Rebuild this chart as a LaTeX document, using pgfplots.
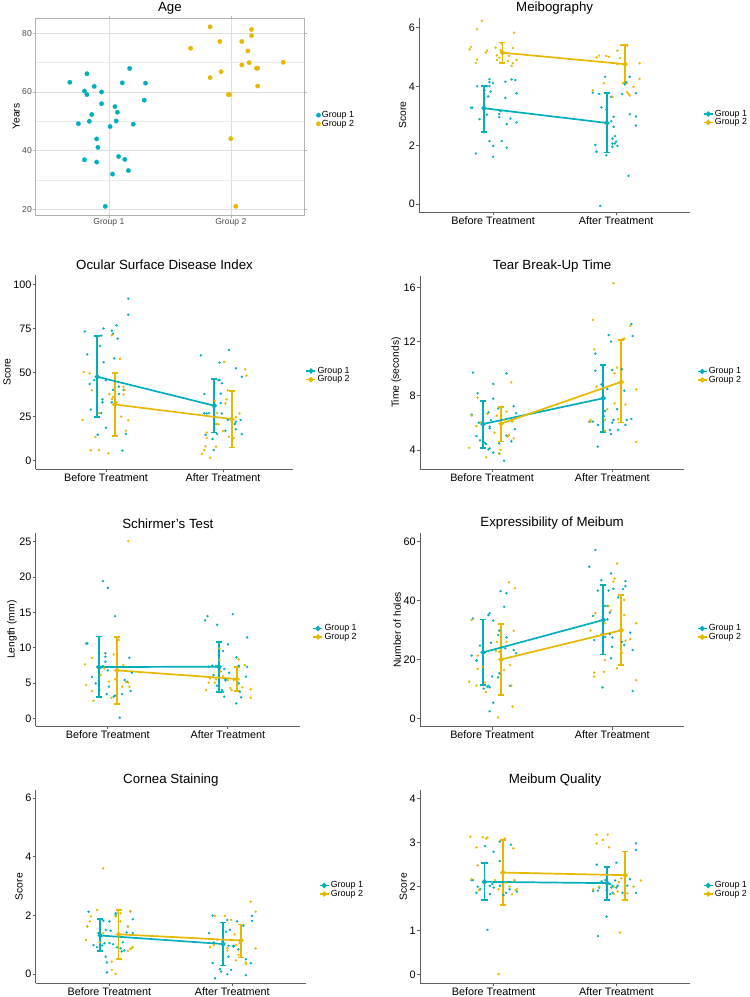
\documentclass[border=0pt]{standalone}
\usepackage{fontspec}
\setmainfont{Liberation Sans}
\usepackage{pgfplots}
\pgfplotsset{compat=1.18}
\definecolor{c1}{RGB}{0,175,187}
\definecolor{c2}{RGB}{231,184,0}
\definecolor{axg}{RGB}{95,95,95}
\newcommand\tickf{\fontsize{10.8}{12}\selectfont}
\newcommand\tickfa{\fontsize{8.6}{10}\selectfont}
\newcommand\labf{\fontsize{10.3}{12}\selectfont}
\newcommand\titf{\fontsize{13.3}{15}\selectfont}
\newcommand\legf{\fontsize{8.9}{10}\selectfont}
\pgfplotsset{
 pt1/.style={only marks, color=c1, mark=*, mark size=1.05pt, mark options={solid, draw=c1, fill=c1, line width=0.3pt}, forget plot},
 pt2/.style={only marks, color=c2, mark=*, mark size=1.05pt, mark options={solid, draw=c2, fill=c2, line width=0.3pt}, forget plot},
 ebar/.style={forget plot, color=#1, line width=1.7pt, mark=none, unbounded coords=jump},
 ln/.style={color=#1, line width=1.7pt, mark=*, mark size=1.7pt, mark options={solid, draw=#1, fill=#1}},
 common/.style={scale only axis, /pgf/number format/assume math mode=true,
   xmin=0.4, xmax=2.6,
   title style={font=\titf, at={(0.5,1)}, anchor=center, yshift=4pt},
   ylabel style={font=\labf, inner sep=1.2pt},
   ticklabel style={inner sep=1.2pt},
   legend cell align=left,
   legend style={at={(1.047,0.484)}, anchor=west, draw=none, fill=none, font=\legf, inner sep=0pt, row sep=-1.5pt, nodes={inner sep=1.2pt}}},
 panel/.style={common, axis x line*=bottom, axis y line*=left,
   axis line style={-, draw=axg, line width=0.9pt},
   tick align=outside, major tick length=3pt, every tick/.style={axg, line width=0.9pt},
   xtick={1,2}, xticklabels={Before Treatment, After Treatment},
   ticklabel style={font=\tickf, text=black},
   legend image code/.code={\draw[mark repeat=2,mark phase=2,#1] plot coordinates {(0pt,0pt) (4.5pt,0pt) (9pt,0pt)};}},
}
\begin{document}
\begin{tikzpicture}
\useasboundingbox (0pt,0pt) rectangle (750pt,-997pt);
% ---------------- Age
\begin{axis}[common, at={(35.7pt,-215pt)}, anchor=south west, width=268.3pt, height=196.7pt,
  ymin=18.06, ymax=85.1, ytick={20,40,60,80}, minor ytick={30,50,70},
  xtick={1,2}, xticklabels={Group 1, Group 2},
  axis line style={draw=gray!60, line width=0.6pt},
  tick align=outside, major tick length=2.5pt, every tick/.style={gray!60, line width=0.6pt},
  minor tick length=0pt,
  ymajorgrids, yminorgrids, xmajorgrids,
  major grid style={gray!26, line width=0.6pt}, minor grid style={gray!16, line width=0.3pt},
  ticklabel style={font=\tickfa, text=black!70},
  title={Age}, ylabel={Years},
  legend style={at={(1.045,0.4855)}}]
\addplot[only marks, color=c1, mark=*, mark size=2.2pt, mark options={solid, draw=c1, fill=c1, line width=0.3pt}] coordinates {
(0.68,63.3) (0.82,66.2) (0.80,60.3) (0.82,59.1) (0.88,61.9) (0.94,60.0) (0.94,56.0) (0.86,52.3) (0.75,49.2) (0.84,50.0) (1.05,55.0) (1.07,53.1) (1.06,50.1) (1.01,48.2) (1.11,63.1) (1.17,68.0) (1.30,63.0) (1.29,57.2) (1.20,49.0) (0.90,44.0) (0.91,41.1) (0.80,36.9) (0.90,36.1) (1.08,38.0) (1.13,37.0) (1.03,32.0) (1.16,33.2) (0.97,21.0)};
\addlegendentry{Group 1}
\addplot[only marks, color=c2, mark=*, mark size=2.2pt, mark options={solid, draw=c2, fill=c2, line width=0.3pt}] coordinates {
(1.67,74.9) (1.83,82.2) (1.91,77.2) (2.09,77.2) (2.17,81.3) (2.17,79.2) (2.14,74.0) (2.15,70.0) (2.09,69.2) (2.43,70.1) (1.92,66.9) (1.83,64.9) (2.21,68.1) (2.22,68.1) (2.22,62.0) (1.98,59.1) (1.99,59.1) (2.00,44.1) (2.04,21.0)};
\addlegendentry{Group 2}
\end{axis}
% ---------------- Meibography
\begin{axis}[panel, at={(419.3pt,-212.3pt)}, anchor=south west, width=270.7pt, height=194.3pt,
  ymin=-0.28, ymax=6.33, ytick={0,2,4,6}, title={Meibography}, ylabel={Score}]
\addplot[pt1] coordinates {
(0.82,3.28) (0.83,3.28) (0.87,4.01) (0.89,2.89) (0.86,1.72) (0.93,3.86) (0.95,4.01) (0.97,4.25) (0.97,4.15) (1.00,4.12) (0.97,4.01) (0.96,3.66) (0.98,3.83) (0.95,3.04) (1.05,3.06) (1.05,2.96) (0.97,2.14) (1.00,1.98) (1.00,1.61) (1.07,2.14) (1.11,1.92) (1.10,3.61) (1.10,4.16) (1.15,4.24) (1.18,4.22) (1.19,3.77) (1.14,2.91) (1.11,2.72) (1.19,2.78) (1.06,3.16)
(1.81,3.79) (1.83,2.01) (1.84,1.78) (1.86,3.75) (1.88,3.29) (1.91,4.33) (1.92,3.22) (1.92,1.66) (1.96,3.65) (1.96,2.82) (1.98,2.97) (1.98,2.63) (1.97,2.23) (1.99,2.31) (1.97,2.06) (1.99,2.06) (1.97,1.95) (2.01,1.98) (2.00,2.12) (1.87,-0.06) (2.05,3.74) (2.11,4.33) (2.07,4.07) (2.11,3.06) (2.10,0.96) (2.16,3.77) (2.16,2.98) (2.16,2.67) (2.08,4.15)};
\addplot[pt2] coordinates {
(0.81,5.26) (0.82,5.35) (0.87,5.95) (0.91,6.24) (0.86,4.80) (0.87,4.92) (0.94,5.15) (0.95,5.22) (1.02,5.32) (1.03,5.06) (1.05,4.98) (1.03,4.90) (1.06,5.23) (1.13,5.04) (1.12,4.87) (1.17,5.83) (1.16,5.31) (1.19,4.90) (1.15,4.70) (1.16,4.79) (1.07,5.47)
(1.81,3.87) (1.84,4.99) (1.86,5.05) (1.92,5.04) (1.94,5.01) (1.90,4.11) (1.97,3.65) (2.01,5.22) (2.03,4.96) (2.01,4.76) (2.04,5.40) (2.09,5.40) (2.10,3.75) (2.11,3.69) (2.14,3.99) (2.19,4.79) (2.19,4.26) (2.09,3.81)};
\addplot[ebar=c1] coordinates {(0.925,2.46) (0.925,4.01) (nan,nan) (0.900,2.46) (0.950,2.46) (nan,nan) (0.900,4.01) (0.950,4.01) (nan,nan)
 (1.925,1.75) (1.925,3.79) (nan,nan) (1.900,1.75) (1.950,1.75) (nan,nan) (1.900,3.79) (1.950,3.79)};
\addplot[ebar=c2] coordinates {(1.075,4.80) (1.075,5.50) (nan,nan) (1.050,4.80) (1.100,4.80) (nan,nan) (1.050,5.50) (1.100,5.50) (nan,nan)
 (2.072,4.12) (2.072,5.40) (nan,nan) (2.047,4.12) (2.097,4.12) (nan,nan) (2.047,5.40) (2.097,5.40)};
\addplot[ln=c1] coordinates {(0.925,3.26) (1.925,2.76)}; \addlegendentry{Group 1}
\addplot[ln=c2] coordinates {(1.075,5.15) (2.072,4.76)}; \addlegendentry{Group 2}
\end{axis}
% ---------------- OSDI
\begin{axis}[panel, at={(35.7pt,-469.3pt)}, anchor=south west, width=257.6pt, height=194.3pt,
  ymin=-4.9, ymax=105.3, ytick={0,25,50,75,100}, title={Ocular Surface Disease Index}, ylabel={Score}]
\addplot[pt1] coordinates {
(0.82,73.3) (0.84,60.3) (0.86,43.5) (0.90,45.7) (0.87,28.9) (0.93,14.7) (0.95,65.0) (0.96,70.9) (0.98,75.0) (0.98,55.8) (0.97,34.8) (0.97,33.1) (0.96,27.0) (1.00,45.6) (1.00,18.7) (1.05,73.7) (1.06,72.0) (1.07,58.0) (1.09,76.7) (1.10,69.2) (1.06,40.1) (1.11,42.0) (1.11,37.8) (1.05,33.1) (1.15,40.1) (1.17,15.1) (1.14,5.7) (1.19,91.9) (1.19,82.8)
(1.81,59.7) (1.84,37.8) (1.85,14.6) (1.84,26.8) (1.86,26.8) (1.88,27.0) (1.91,12.3) (1.92,6.0) (1.96,45.7) (1.97,45.7) (1.97,55.6) (1.98,38.0) (1.98,32.7) (1.99,43.9) (1.99,26.8) (2.02,17.0) (2.05,62.8) (2.04,23.1) (1.94,20.8) (2.10,20.8) (2.11,22.1) (2.11,52.4) (2.11,17.8) (2.15,23.1) (2.16,47.6) (2.16,15.1) (1.95,15.1)};
\addplot[pt2] coordinates {
(0.80,23.1) (0.81,50.3) (0.86,49.5) (0.88,39.9) (0.91,13.4) (0.87,5.9) (0.94,6.0) (0.94,27.0) (1.02,4.2) (1.03,37.8) (1.05,35.0) (1.05,71.1) (1.09,33.1) (1.12,57.8) (1.13,25.0) (1.15,37.6) (1.15,41.8) (1.16,40.1) (1.17,17.0) (1.19,22.9) (1.06,36.1)
(1.82,3.8) (1.84,6.0) (1.85,8.1) (1.86,12.9) (1.86,15.9) (1.89,1.7) (1.94,7.9) (1.93,34.0) (1.95,27.0) (1.94,21.0) (1.96,20.6) (2.00,16.8) (2.01,56.0) (2.02,32.5) (2.03,34.8) (2.04,39.9) (2.05,13.6) (2.09,12.7) (2.11,24.6) (2.14,26.8) (2.19,51.8) (2.20,48.2)};
\addplot[ebar=c1] coordinates {(0.925,24.6) (0.925,70.9) (nan,nan) (0.900,24.6) (0.950,24.6) (nan,nan) (0.900,70.9) (0.950,70.9) (nan,nan)
 (1.925,15.9) (1.925,46.5) (nan,nan) (1.900,15.9) (1.950,15.9) (nan,nan) (1.900,46.5) (1.950,46.5)};
\addplot[ebar=c2] coordinates {(1.075,14.0) (1.075,49.7) (nan,nan) (1.050,14.0) (1.100,14.0) (nan,nan) (1.050,49.7) (1.100,49.7) (nan,nan)
 (2.075,7.4) (2.075,39.7) (nan,nan) (2.050,7.4) (2.100,7.4) (nan,nan) (2.050,39.7) (2.100,39.7)};
\addplot[ln=c1] coordinates {(0.925,47.6) (1.925,31.2)}; \addlegendentry{Group 1}
\addplot[ln=c2] coordinates {(1.075,31.9) (2.075,23.6)}; \addlegendentry{Group 2}
\end{axis}
% ---------------- TBUT
\begin{axis}[panel, at={(420pt,-469.3pt)}, anchor=south west, width=264.3pt, height=193.3pt,
  ymin=2.57, ymax=16.86, ytick={4,8,12,16}, title={Tear Break-Up Time}, ylabel={Time (seconds)}]
\addplot[pt1] coordinates {
(0.84,9.72) (0.83,6.61) (0.88,8.19) (0.87,5.03) (0.90,4.71) (0.94,4.54) (0.95,4.44) (0.97,6.78) (0.98,5.72) (0.98,5.60) (0.97,4.05) (0.98,4.12) (1.01,8.88) (1.01,7.80) (1.01,3.80) (1.05,7.06) (1.06,3.75) (1.06,4.49) (1.10,3.21) (1.12,9.67) (1.12,5.06) (1.16,4.64) (1.18,7.23) (1.20,6.71) (1.19,5.53) (0.89,6.02) (0.99,6.22)
(1.81,6.09) (1.84,6.09) (1.86,11.12) (1.86,9.86) (1.88,4.25) (1.88,5.85) (1.91,8.85) (1.93,6.49) (1.94,6.88) (1.97,12.50) (1.99,12.01) (1.96,8.51) (1.98,5.48) (1.99,5.18) (2.00,9.91) (2.00,6.02) (2.01,6.22) (2.04,7.01) (2.05,5.48) (2.08,9.96) (2.10,8.39) (2.11,5.85) (2.12,6.22) (2.16,13.31) (2.17,12.43) (2.16,6.29)};
\addplot[pt2] coordinates {
(0.81,4.15) (0.83,6.54) (0.87,5.77) (0.88,7.87) (0.91,6.05) (0.95,3.46) (0.96,6.66) (1.02,5.28) (1.04,6.54) (1.06,3.70) (1.07,4.00) (1.10,6.22) (1.12,6.83) (1.13,4.99) (1.14,5.11) (1.16,9.00) (1.17,6.12) (1.18,4.86)
(1.82,6.22) (1.82,6.09) (1.84,13.61) (1.85,11.44) (1.87,8.68) (1.94,5.43) (1.94,6.22) (1.96,7.01) (2.01,16.32) (2.02,9.67) (2.02,7.45) (2.04,10.09) (2.05,6.27) (2.09,12.21) (2.10,12.23) (2.11,7.35) (2.15,13.17) (2.20,8.48) (2.20,4.59)};
\addplot[ebar=c1] coordinates {(0.925,4.15) (0.925,7.60) (nan,nan) (0.900,4.15) (0.950,4.15) (nan,nan) (0.900,7.60) (0.950,7.60) (nan,nan)
 (1.925,5.33) (1.925,10.28) (nan,nan) (1.900,5.33) (1.950,5.33) (nan,nan) (1.900,10.28) (1.950,10.28)};
\addplot[ebar=c2] coordinates {(1.075,4.62) (1.075,7.20) (nan,nan) (1.050,4.62) (1.100,4.62) (nan,nan) (1.050,7.20) (1.100,7.20) (nan,nan)
 (2.075,6.02) (2.075,12.13) (nan,nan) (2.050,6.02) (2.100,6.02) (nan,nan) (2.050,12.13) (2.100,12.13)};
\addplot[ln=c1] coordinates {(0.925,5.92) (1.925,7.82)}; \addlegendentry{Group 1}
\addplot[ln=c2] coordinates {(1.075,5.95) (2.075,9.03)}; \addlegendentry{Group 2}
\end{axis}
% ---------------- Schirmer
\begin{axis}[panel, at={(35.7pt,-726pt)}, anchor=south west, width=264.3pt, height=192.7pt,
  ymin=-1.09, ymax=26.2, ytick={0,5,10,15,20,25}, title={Schirmer's Test}, ylabel={Length (mm)}]
\addplot[pt1] coordinates {
(0.82,10.61) (0.83,10.61) (0.87,5.85) (0.90,4.95) (0.93,4.01) (0.96,19.43) (0.98,9.20) (0.98,8.73) (0.98,8.02) (1.00,18.49) (1.00,6.79) (0.96,7.41) (0.99,3.44) (1.01,4.48) (1.06,14.48) (1.05,3.07) (1.06,3.21) (1.10,0.09) (1.12,3.44) (1.14,5.42) (1.18,8.58) (1.19,3.87) (1.20,6.46) (0.94,7.17) (1.16,5.19)
(1.81,13.87) (1.83,14.48) (1.84,7.31) (1.87,7.45) (1.88,6.13) (1.90,7.41) (1.91,13.25) (1.93,7.03) (1.96,9.53) (1.95,4.01) (1.96,3.77) (1.97,3.07) (1.97,6.98) (1.98,5.33) (1.98,5.52) (2.00,10.47) (2.01,6.46) (2.04,14.76) (2.07,8.63) (2.07,2.12) (2.09,7.45) (2.09,4.95) (2.10,3.77) (2.11,2.97) (2.15,5.90) (2.16,11.46) (2.16,7.31) (1.91,4.62)};
\addplot[pt2] coordinates {
(0.81,7.64) (0.82,4.72) (0.87,3.87) (0.87,8.58) (0.88,2.50) (0.94,6.13) (0.97,7.08) (1.03,2.92) (1.05,9.06) (1.06,5.52) (1.09,11.08) (1.12,4.48) (1.13,7.55) (1.15,5.14) (1.17,25.09) (1.17,5.05) (1.18,4.48) (1.01,5.19)
(1.82,4.01) (1.84,5.05) (1.85,5.66) (1.89,5.05) (1.90,5.52) (1.93,8.25) (1.93,9.91) (1.94,6.65) (1.96,5.99) (2.00,5.42) (2.02,4.29) (2.03,4.01) (2.05,5.42) (2.09,8.35) (2.14,7.55) (2.19,4.10) (2.19,2.92) (2.12,4.39)};
\addplot[ebar=c1] coordinates {(0.925,2.97) (0.925,11.60) (nan,nan) (0.900,2.97) (0.950,2.97) (nan,nan) (0.900,11.60) (0.950,11.60) (nan,nan)
 (1.925,3.77) (1.925,10.85) (nan,nan) (1.900,3.77) (1.950,3.77) (nan,nan) (1.900,10.85) (1.950,10.85)};
\addplot[ebar=c2] coordinates {(1.075,2.03) (1.075,11.56) (nan,nan) (1.050,2.03) (1.100,2.03) (nan,nan) (1.050,11.56) (1.100,11.56) (nan,nan)
 (2.075,3.87) (2.075,7.31) (nan,nan) (2.050,3.87) (2.100,3.87) (nan,nan) (2.050,7.31) (2.100,7.31)};
\addplot[ln=c1] coordinates {(0.925,7.26) (1.925,7.31)}; \addlegendentry{Group 1}
\addplot[ln=c2] coordinates {(1.075,6.79) (2.075,5.57)}; \addlegendentry{Group 2}
\end{axis}
% ---------------- Expressibility
\begin{axis}[panel, at={(420pt,-726.7pt)}, anchor=south west, width=264.3pt, height=194pt,
  ymin=-2.85, ymax=63.06, ytick={0,20,40,60}, title={Expressibility of Meibum}, ylabel={Number of holes}]
\addplot[pt1] coordinates {
(0.84,33.9) (0.83,21.3) (0.87,19.6) (0.87,19.6) (0.90,24.7) (0.93,10.1) (0.96,10.8) (0.97,11.0) (0.98,10.5) (0.97,35.1) (0.98,35.7) (0.99,25.7) (1.01,33.2) (0.98,2.4) (1.01,5.3) (1.00,14.2) (1.05,28.3) (1.06,29.8) (1.06,15.3) (1.07,43.2) (1.10,37.9) (1.11,23.8) (1.12,42.5) (1.12,27.5) (1.15,11.1) (1.18,23.2) (1.20,22.1) (1.05,13.9)
(1.81,51.5) (1.84,34.8) (1.85,26.6) (1.86,57.2) (1.88,43.4) (1.91,46.9) (1.92,10.5) (1.93,33.4) (1.94,38.2) (1.94,27.7) (1.96,38.2) (1.96,33.6) (1.97,43.4) (1.98,35.9) (1.98,28.6) (1.99,20.4) (1.99,49.2) (2.00,27.5) (2.00,24.3) (2.01,44.0) (2.05,41.1) (2.08,26.0) (2.09,43.9) (2.10,24.9) (2.11,44.9) (2.11,46.6) (2.15,29.1) (2.17,23.2) (2.17,9.3)};
\addplot[pt2] coordinates {
(0.81,12.5) (0.83,33.4) (0.87,11.1) (0.88,21.3) (0.88,16.8) (0.92,17.5) (0.94,12.2) (0.95,8.9) (1.05,0.3) (1.03,22.9) (1.04,26.0) (1.06,22.6) (1.10,16.4) (1.12,26.0) (1.14,46.2) (1.15,18.1) (1.16,11.1) (1.17,4.0) (1.18,29.7) (1.19,44.2)
(1.82,29.8) (1.85,15.5) (1.85,14.2) (1.86,35.7) (1.91,28.6) (1.93,15.8) (1.94,19.8) (1.94,32.3) (1.97,38.2) (1.99,36.6) (2.01,46.4) (2.02,47.5) (2.04,52.6) (2.04,17.0) (2.08,22.3) (2.10,40.2) (2.10,35.1) (2.11,26.4) (2.15,26.9) (2.20,32.3) (2.20,13.0) (1.94,28.6)};
\addplot[ebar=c1] coordinates {(0.925,11.3) (0.925,33.6) (nan,nan) (0.900,11.3) (0.950,11.3) (nan,nan) (0.900,33.6) (0.950,33.6) (nan,nan)
 (1.925,21.7) (1.925,45.3) (nan,nan) (1.900,21.7) (1.950,21.7) (nan,nan) (1.900,45.3) (1.950,45.3)};
\addplot[ebar=c2] coordinates {(1.075,7.9) (1.075,32.0) (nan,nan) (1.050,7.9) (1.100,7.9) (nan,nan) (1.050,32.0) (1.100,32.0) (nan,nan)
 (2.075,18.2) (2.075,41.9) (nan,nan) (2.050,18.2) (2.100,18.2) (nan,nan) (2.050,41.9) (2.100,41.9)};
\addplot[ln=c1] coordinates {(0.925,22.4) (1.925,33.4)}; \addlegendentry{Group 1}
\addplot[ln=c2] coordinates {(1.075,20.0) (2.075,29.9)}; \addlegendentry{Group 2}
\end{axis}
% ---------------- Cornea Staining
\begin{axis}[panel, at={(35.7pt,-983.3pt)}, anchor=south west, width=270.3pt, height=193.3pt,
  ymin=-0.31, ymax=6.28, ytick={0,2,4,6}, title={Cornea Staining}, ylabel={Score}]
\addplot[pt1] coordinates {
(0.82,1.63) (0.83,2.13) (0.87,0.99) (0.90,0.92) (0.94,0.98) (0.95,1.83) (0.96,1.05) (0.97,1.51) (0.97,0.60) (0.98,0.06) (0.98,0.40) (1.00,1.80) (1.01,1.48) (1.00,1.06) (1.03,1.02) (1.05,2.08) (1.05,2.02) (1.06,0.92) (1.09,0.88) (1.10,0.78) (1.12,0.81) (1.15,1.63) (1.14,1.42) (1.17,2.14) (1.19,1.88) (1.19,1.40) (1.11,1.09) (0.91,1.40)
(1.81,1.40) (1.84,2.00) (1.84,0.38) (1.86,-0.14) (1.85,1.08) (1.90,0.17) (1.91,0.09) (1.92,1.11) (1.95,1.45) (1.96,1.85) (1.97,0.60) (1.97,0.97) (1.98,1.51) (1.99,0.15) (2.01,0.97) (2.01,0.94) (2.05,0.85) (2.04,1.80) (2.06,1.15) (2.09,1.65) (2.11,-0.03) (2.11,0.51) (2.15,0.38) (2.16,1.99) (2.16,1.82) (1.96,0.0)};
\addplot[pt2] coordinates {
(0.81,1.17) (0.82,1.63) (0.84,1.80) (0.85,1.97) (0.90,2.19) (0.92,1.08) (0.95,3.61) (0.95,1.40) (1.02,0.43) (1.02,0.15) (1.05,0.01) (1.05,1.97) (1.07,2.10) (1.09,2.08) (1.09,1.80) (1.15,0.80) (1.17,0.86) (1.18,0.89) (1.19,0.92) (1.17,2.14) (1.15,1.63)
(1.82,0.92) (1.85,1.00) (1.86,1.99) (1.88,1.17) (1.94,1.99) (1.96,0.81) (1.96,0.89) (1.99,1.85) (2.02,1.36) (2.03,1.00) (2.03,0.47) (2.05,0.66) (2.06,1.06) (2.11,0.40) (2.11,0.35) (2.15,2.48) (2.19,2.13) (2.19,0.88) (2.07,1.40)};
\addplot[ebar=c1] coordinates {(0.925,0.80) (0.925,1.89) (nan,nan) (0.900,0.80) (0.950,0.80) (nan,nan) (0.900,1.89) (0.950,1.89) (nan,nan)
 (1.925,0.30) (1.925,1.76) (nan,nan) (1.900,0.30) (1.950,0.30) (nan,nan) (1.900,1.76) (1.950,1.76)};
\addplot[ebar=c2] coordinates {(1.075,0.52) (1.075,2.19) (nan,nan) (1.050,0.52) (1.100,0.52) (nan,nan) (1.050,2.19) (1.100,2.19) (nan,nan)
 (2.071,0.57) (2.071,1.70) (nan,nan) (2.046,0.57) (2.096,0.57) (nan,nan) (2.046,1.70) (2.096,1.70)};
\addplot[ln=c1] coordinates {(0.925,1.32) (1.925,1.03)}; \addlegendentry{Group 1}
\addplot[ln=c2] coordinates {(1.075,1.36) (2.071,1.15)}; \addlegendentry{Group 2}
\end{axis}
% ---------------- Meibum Quality
\begin{axis}[panel, at={(420pt,-983.3pt)}, anchor=south west, width=270pt, height=193.3pt,
  ymin=-0.19, ymax=4.19, ytick={0,1,2,3,4}, title={Meibum Quality}, ylabel={Score}]
\addplot[pt1] coordinates {
(0.82,2.15) (0.83,2.15) (0.87,2.00) (0.86,1.86) (0.89,1.94) (0.93,2.92) (0.95,1.02) (0.97,1.83) (0.97,2.02) (0.99,2.06) (1.00,1.98) (1.00,2.79) (1.05,2.58) (1.05,3.02) (1.05,2.02) (1.08,1.81) (1.10,2.10) (1.10,1.86) (1.13,1.94) (1.14,2.95) (1.17,2.14) (1.19,1.89) (1.02,2.11)
(1.81,1.90) (1.84,2.50) (1.85,1.91) (1.85,0.88) (1.86,1.98) (1.88,2.12) (1.92,1.32) (1.91,2.15) (1.92,1.92) (1.95,2.06) (1.96,1.98) (1.97,1.86) (1.97,2.02) (1.99,2.14) (2.00,2.54) (2.00,1.98) (2.01,2.02) (2.05,1.86) (2.09,2.02) (2.11,2.17) (2.16,1.86) (2.16,2.98) (2.16,2.83) (1.95,1.83)};
\addplot[pt2] coordinates {
(0.81,3.13) (0.82,2.17) (0.86,2.89) (0.87,2.48) (0.88,1.92) (0.91,3.12) (0.94,3.09) (0.95,3.11) (1.01,2.15) (1.04,0.02) (1.04,1.94) (1.09,3.09) (1.10,2.09) (1.13,2.00) (1.15,1.83) (1.16,2.87) (1.17,2.15) (1.18,1.92) (1.19,1.95)
(1.81,1.94) (1.84,3.18) (1.84,2.98) (1.86,2.00) (1.89,3.06) (1.93,3.18) (1.94,2.89) (1.98,1.83) (2.01,1.89) (2.02,2.11) (2.03,0.96) (2.04,2.19) (2.07,1.89) (2.09,1.85) (2.14,2.00) (2.20,2.14) (2.07,2.44) (1.98,2.00)};
\addplot[ebar=c1] coordinates {(0.925,1.70) (0.925,2.54) (nan,nan) (0.900,1.70) (0.950,1.70) (nan,nan) (0.900,2.54) (0.950,2.54) (nan,nan)
 (1.925,1.70) (1.925,2.44) (nan,nan) (1.900,1.70) (1.950,1.70) (nan,nan) (1.900,2.44) (1.950,2.44)};
\addplot[ebar=c2] coordinates {(1.075,1.59) (1.075,3.06) (nan,nan) (1.050,1.59) (1.100,1.59) (nan,nan) (1.050,3.06) (1.100,3.06) (nan,nan)
 (2.072,1.70) (2.072,2.80) (nan,nan) (2.047,1.70) (2.097,1.70) (nan,nan) (2.047,2.80) (2.097,2.80)};
\addplot[ln=c1] coordinates {(0.925,2.11) (1.925,2.08)}; \addlegendentry{Group 1}
\addplot[ln=c2] coordinates {(1.075,2.32) (2.072,2.26)}; \addlegendentry{Group 2}
\end{axis}
\end{tikzpicture}
\end{document}
